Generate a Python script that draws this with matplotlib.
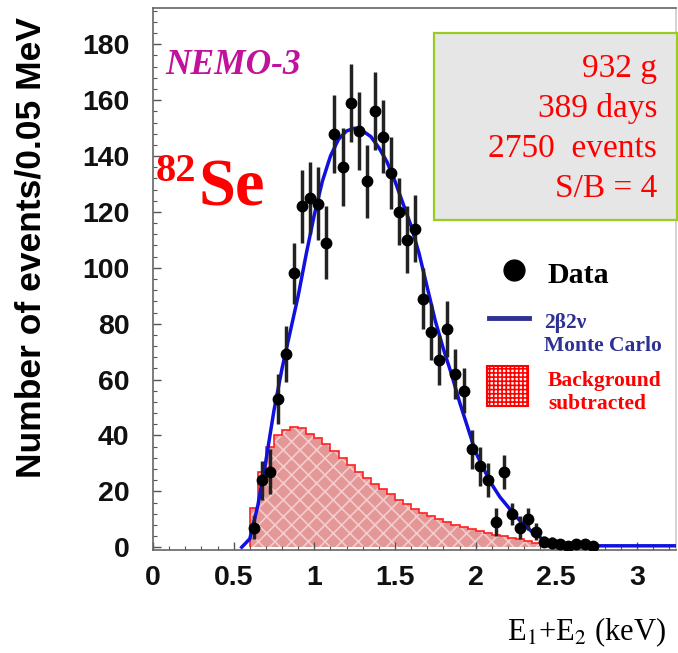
import numpy as np
import matplotlib
matplotlib.use("Agg")
from matplotlib import pyplot as plt
from matplotlib.patches import Rectangle
from matplotlib.lines import Line2D

# measured spectrum, bins of 0.05 MeV
data_x = [0.625, 0.675, 0.725, 0.775, 0.825, 0.875, 0.925, 0.975, 1.025, 1.075,
          1.125, 1.175, 1.225, 1.275, 1.325, 1.375, 1.425, 1.475, 1.525, 1.575,
          1.625, 1.675, 1.725, 1.775, 1.825, 1.875, 1.925, 1.975, 2.025, 2.075,
          2.125, 2.175, 2.225, 2.275, 2.325, 2.375, 2.425, 2.475, 2.525, 2.575,
          2.625, 2.675, 2.725]
data_y = [7, 24, 27, 53, 69, 98, 122, 125, 123, 109,
          148, 136, 159, 149, 131, 156, 147, 134, 120, 110,
          114, 89, 77, 67, 78, 62, 56, 35, 29, 24,
          9, 27, 12, 7, 10, 5.5, 2, 1.5, 1, 0.5,
          1, 1, 0.5]
data_err = [4, 7, 8, 9, 10, 11, 13, 13, 13, 13,
            14, 14, 14, 14, 13, 14, 13, 13, 12, 12,
            12, 11, 10, 9, 10, 9, 8, 7, 7, 6,
            5, 6, 4, 4, 4, 3, 2, 2, 1, 1,
            1, 1, 1]

# 2b2v Monte Carlo
mc_x = [0.55, 0.60, 0.65, 0.70, 0.75, 0.80, 0.85, 0.90, 0.95, 1.00, 1.05,
        1.10, 1.15, 1.20, 1.25, 1.30, 1.35, 1.40, 1.45, 1.50, 1.55, 1.60, 1.65,
        1.70, 1.75, 1.80, 1.85, 1.90, 1.95, 2.00, 2.05, 2.10, 2.15, 2.20, 2.25,
        2.30, 2.35, 2.40, 2.45, 2.50, 2.55, 2.70, 2.90, 3.10, 3.24]
mc_y = [0, 3, 15, 31, 49, 64, 77, 90, 105, 119, 131,
        140, 146, 149, 150, 149, 147, 143, 138, 131, 123, 115, 105,
        93, 81, 71, 62, 52, 43, 34, 28, 22.5, 18, 14.5, 11,
        8, 5.5, 3.5, 1.5, 0.8, 0.5, 0.5, 0.5, 0.5, 0.5]

# subtracted background, 0.05 MeV bins starting at 0.60
bkg_start = 0.60
bkg = [14, 27, 36, 40, 42, 43, 42.5, 40.5, 39, 37, 34.5, 32, 29.5, 27, 24.8,
       22.8, 21, 19, 17, 15.3, 13.7, 12.3, 11, 10, 9, 8, 7.2, 6.4, 5.7, 5,
       4.5, 3.9, 3.4, 2.9, 2.3, 1.6, 1.0]
bkg_edges = bkg_start + 0.05 * np.arange(len(bkg) + 1)

info_lines = ["932 g", "389 days", "2750  events", "S/B = 4"]

W, H = 678, 653


def fx(px):
    return px / W


def fy(py):
    return 1 - py / H


plt.rcParams["hatch.linewidth"] = 1.2

fig = plt.figure(figsize=(W / 100, H / 100), dpi=100)
ax = fig.add_axes([fx(153), fy(550), (676 - 153) / W, (550 - 8) / H])

ax.stairs(bkg, bkg_edges, fill=True, facecolor="#e39797", edgecolor="#f4cccc",
          hatch="xx", linewidth=0, zorder=1)
ax.stairs(bkg, bkg_edges, fill=False, color="#ff2020", linewidth=1.2, zorder=2)
ax.plot(mc_x, mc_y, color="#1010e0", linewidth=2.5, zorder=3)
ax.errorbar(data_x, data_y, yerr=data_err, fmt="o", color="black", ms=7.5,
            ecolor="#222222", elinewidth=2.5, capsize=0, zorder=4)

ax.set_xlim(0, 3.242)
ax.set_ylim(-1, 193)
ax.set_xticks(np.arange(0, 3.01, 0.5))
ax.set_xticklabels(["0", "0.5", "1", "1.5", "2", "2.5", "3"])
ax.set_xticks(np.arange(0, 3.21, 0.1), minor=True)
ax.set_yticks(np.arange(0, 181, 20))
ax.set_yticks(np.arange(0, 193, 4), minor=True)
ax.tick_params(which="both", direction="in", color="#555555", right=False, top=False)
ax.tick_params(which="major", length=6, width=1.0)
ax.tick_params(which="minor", length=3, width=0.8)
ax.tick_params(axis="y", pad=17)
ax.tick_params(axis="x", pad=11)
for lab in ax.get_xticklabels() + ax.get_yticklabels():
    lab.set_fontfamily("Liberation Sans")
    lab.set_fontweight("bold")
    lab.set_fontsize(20.5)
    lab.set_color("#111111")
for s in ax.spines.values():
    s.set_color("#666666")
    s.set_linewidth(1.2)
ax.spines["right"].set_color("#cccccc")

fig.text(fx(31), fy(248), "Number of events/0.05 MeV", rotation=90, ha="center",
         va="center", family="Liberation Sans", weight="bold", fontsize=25.5)
fig.text(fx(666), fy(640), r"E$_1$+E$_2$ (keV)", ha="right", va="baseline",
         family="Liberation Serif", fontsize=22,
         math_fontfamily="stix")

fig.text(fx(165), fy(74), "NEMO-3", family="Liberation Serif", weight="bold",
         style="italic", color="#c0129a", fontsize=25.5, va="baseline")
fig.text(fx(156), fy(181), "82", family="Liberation Serif", weight="bold",
         color="#ff0000", fontsize=29, va="baseline")
fig.text(fx(199), fy(205), "Se", family="Liberation Serif", weight="bold",
         color="#ff0000", fontsize=48, va="baseline")

fig.add_artist(Rectangle((fx(434), fy(220)), (677 - 434) / W, (220 - 33) / H,
                         transform=fig.transFigure, facecolor="#e6e6e6",
                         edgecolor="#99cc22", linewidth=1.6, zorder=5))
for i, line in enumerate(info_lines):
    fig.text(fx(657), fy(77 + 40 * i), line, ha="right", va="baseline",
             family="Liberation Serif", color="#ff0000", fontsize=24, zorder=6)

# legend
fig.add_artist(Line2D([fx(514)], [fy(270)], marker="o", ms=15, color="black",
                      transform=fig.transFigure))
fig.text(fx(548), fy(283), "Data", family="Liberation Serif", weight="bold",
         fontsize=21.5, va="baseline")
fig.add_artist(Line2D([fx(489), fx(529)], [fy(318), fy(318)], color="#2e3192",
                      linewidth=3.5, transform=fig.transFigure))
fig.text(fx(544), fy(328), "2β2ν", family="Liberation Serif", weight="bold",
         color="#2e3192", fontsize=15.5, va="baseline")
fig.text(fx(544), fy(351), "Monte Carlo", family="Liberation Serif", weight="bold",
         color="#2e3192", fontsize=15.5, va="baseline")
fig.add_artist(Rectangle((fx(487), fy(406)), 41 / W, 40 / H,
                         transform=fig.transFigure, facecolor="white",
                         edgecolor="#ff0000", hatch="++++", linewidth=1.5))
fig.text(fx(548), fy(386), "Background", family="Liberation Serif", weight="bold",
         color="#ff0000", fontsize=15.5, va="baseline")
fig.text(fx(548), fy(409), "subtracted", family="Liberation Serif", weight="bold",
         color="#ff0000", fontsize=15.5, va="baseline")

fig.savefig("out.png", dpi=100)
